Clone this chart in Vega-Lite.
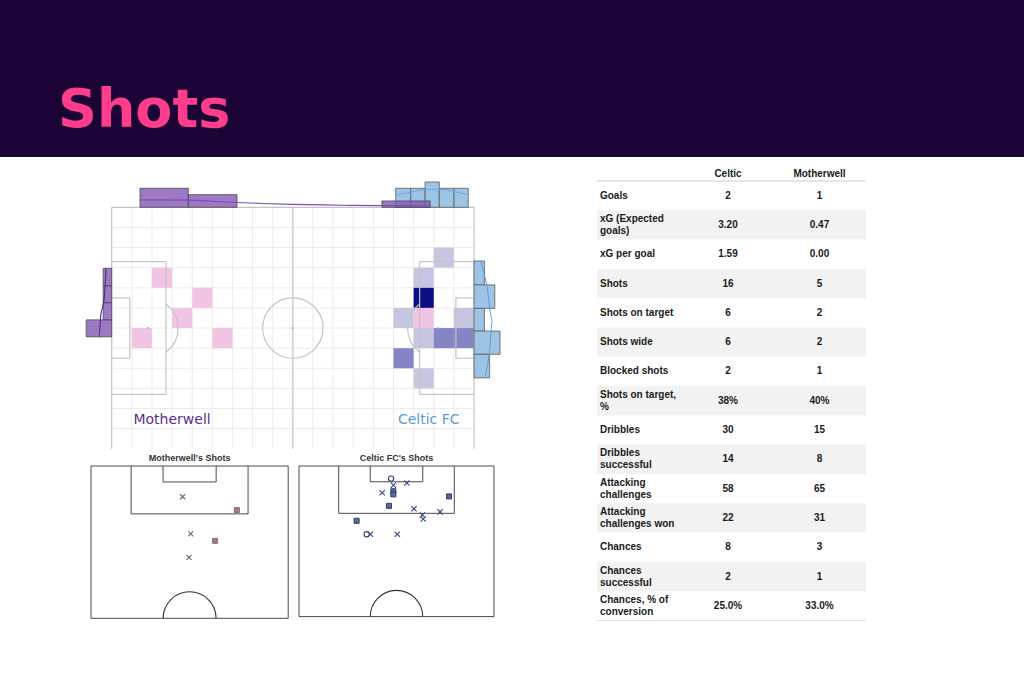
{
 "$schema": "https://vega.github.io/schema/vega-lite/v6.json",
 "width": 1024, "height": 683, "padding": 0,
 "autosize": {"type": "none"},
 "background": "#ffffff",
 "config": {"view": {"stroke": null}, "axis": {"disable": true}, "legend": {"disable": true}, "text": {"font": "Liberation Sans"}},
 "resolve": {"scale": {"x": "independent", "y": "independent", "color": "independent", "shape": "independent"}},
 "datasets": {
  "stats": [
   {"i":0,"stat":"Goals","label":"Goals","Celtic":"2","Motherwell":"1"},
   {"i":1,"stat":"xG (Expected goals)","label":["xG (Expected","goals)"],"Celtic":"3.20","Motherwell":"0.47"},
   {"i":2,"stat":"xG per goal","label":"xG per goal","Celtic":"1.59","Motherwell":"0.00"},
   {"i":3,"stat":"Shots","label":"Shots","Celtic":"16","Motherwell":"5"},
   {"i":4,"stat":"Shots on target","label":"Shots on target","Celtic":"6","Motherwell":"2"},
   {"i":5,"stat":"Shots wide","label":"Shots wide","Celtic":"6","Motherwell":"2"},
   {"i":6,"stat":"Blocked shots","label":"Blocked shots","Celtic":"2","Motherwell":"1"},
   {"i":7,"stat":"Shots on target, %","label":["Shots on target,","%"],"Celtic":"38%","Motherwell":"40%"},
   {"i":8,"stat":"Dribbles","label":"Dribbles","Celtic":"30","Motherwell":"15"},
   {"i":9,"stat":"Dribbles successful","label":["Dribbles","successful"],"Celtic":"14","Motherwell":"8"},
   {"i":10,"stat":"Attacking challenges","label":["Attacking","challenges"],"Celtic":"58","Motherwell":"65"},
   {"i":11,"stat":"Attacking challenges won","label":["Attacking","challenges won"],"Celtic":"22","Motherwell":"31"},
   {"i":12,"stat":"Chances","label":"Chances","Celtic":"8","Motherwell":"3"},
   {"i":13,"stat":"Chances successful","label":["Chances","successful"],"Celtic":"2","Motherwell":"1"},
   {"i":14,"stat":"Chances, % of conversion","label":["Chances, % of","conversion"],"Celtic":"25.0%","Motherwell":"33.0%"}
  ],
  "halfpitch": [
   {"x1":0,"y1":0,"x2":68,"y2":0},{"x1":0,"y1":0,"x2":0,"y2":52.5},{"x1":68,"y1":0,"x2":68,"y2":52.5},{"x1":0,"y1":52.5,"x2":68,"y2":52.5},
   {"x1":13.84,"y1":0,"x2":13.84,"y2":16.5},{"x1":13.84,"y1":16.5,"x2":54.16,"y2":16.5},{"x1":54.16,"y1":16.5,"x2":54.16,"y2":0},
   {"x1":24.84,"y1":0,"x2":24.84,"y2":5.5},{"x1":24.84,"y1":5.5,"x2":43.16,"y2":5.5},{"x1":43.16,"y1":5.5,"x2":43.16,"y2":0}
  ]
 },
 "layer": [
  {"data":{"values":[{"section":"Shots"}]},"mark":{"type":"rect","color":"#1c0436"},
   "encoding":{"x":{"value":0},"x2":{"value":1024},"y":{"value":0},"y2":{"value":157}}},
  {"data":{"values":[{"section":"Shots"}]},"mark":{"type":"text","font":"DejaVu Sans","fontWeight":"bold","fontSize":54,"color":"#ff3d8d","align":"left","baseline":"alphabetic"},
   "encoding":{"text":{"field":"section"},"x":{"value":58},"y":{"value":127}}},

  {"data":{"values":[{"gx":6.67},{"gx":13.33},{"gx":20},{"gx":26.67},{"gx":33.33},{"gx":40},{"gx":46.67},{"gx":53.33},{"gx":66.67},{"gx":73.33},{"gx":80},{"gx":86.67},{"gx":93.33},{"gx":100},{"gx":106.67},{"gx":113.33}]},
   "mark":{"type":"rule","color":"#ececec","strokeWidth":1},
   "encoding":{"x":{"field":"gx","type":"quantitative","scale":{"domain":[0,120],"range":[111.7,474],"nice":false,"zero":false}},
    "y":{"datum":0,"type":"quantitative","scale":{"domain":[0,80],"range":[207.3,448.8],"nice":false,"zero":false}},"y2":{"datum":80}}},
  {"data":{"values":[{"gy":6.67},{"gy":13.33},{"gy":20},{"gy":26.67},{"gy":33.33},{"gy":40},{"gy":46.67},{"gy":53.33},{"gy":60},{"gy":66.67},{"gy":73.33}]},
   "mark":{"type":"rule","color":"#ececec","strokeWidth":1},
   "encoding":{"y":{"field":"gy","type":"quantitative","scale":{"domain":[0,80],"range":[207.3,448.8],"nice":false,"zero":false}},
    "x":{"datum":0,"type":"quantitative","scale":{"domain":[0,120],"range":[111.7,474],"nice":false,"zero":false}},"x2":{"datum":120}}},

  {"data":{"values":[
    {"team":"Motherwell","x0":13.33,"x1":20,"y0":20,"y1":26.67,"xg":0.10},
    {"team":"Motherwell","x0":26.67,"x1":33.33,"y0":26.67,"y1":33.33,"xg":0.09},
    {"team":"Motherwell","x0":20,"x1":26.67,"y0":33.33,"y1":40,"xg":0.11},
    {"team":"Motherwell","x0":6.67,"x1":13.33,"y0":40,"y1":46.67,"xg":0.10},
    {"team":"Motherwell","x0":33.33,"x1":40,"y0":40,"y1":46.67,"xg":0.07},
    {"team":"Celtic","x0":106.67,"x1":113.33,"y0":13.33,"y1":20,"xg":0.2},
    {"team":"Celtic","x0":100,"x1":106.67,"y0":20,"y1":26.67,"xg":0.2},
    {"team":"Celtic","x0":100,"x1":106.67,"y0":26.67,"y1":33.33,"xg":0.7},
    {"team":"Celtic","x0":93.33,"x1":100,"y0":33.33,"y1":40,"xg":0.2},
    {"team":"Celtic","x0":100,"x1":106.67,"y0":33.33,"y1":40,"xg":0.1},
    {"team":"Celtic","x0":113.33,"x1":120,"y0":33.33,"y1":40,"xg":0.2},
    {"team":"Celtic","x0":100,"x1":106.67,"y0":40,"y1":46.67,"xg":0.2},
    {"team":"Celtic","x0":106.67,"x1":113.33,"y0":40,"y1":46.67,"xg":0.4},
    {"team":"Celtic","x0":113.33,"x1":120,"y0":40,"y1":46.67,"xg":0.4},
    {"team":"Celtic","x0":93.33,"x1":100,"y0":46.67,"y1":53.33,"xg":0.4},
    {"team":"Celtic","x0":100,"x1":106.67,"y0":53.33,"y1":60,"xg":0.2}
   ]},
   "mark":{"type":"rect"},
   "encoding":{"x":{"field":"x0","type":"quantitative","scale":{"domain":[0,120],"range":[111.7,474],"nice":false,"zero":false}},"x2":{"field":"x1"},
    "y":{"field":"y0","type":"quantitative","scale":{"domain":[0,80],"range":[207.3,448.8],"nice":false,"zero":false}},"y2":{"field":"y1"},
    "color":{"field":"xg","type":"quantitative","scale":{"type":"threshold","domain":[0.15,0.3,0.6],"range":["#f1c4e3","#c6c6e3","#8585c6","#0d0d86"]}}}},

  {"data":{"values":[
    {"x1":0,"y1":0,"x2":120,"y2":0},{"x1":0,"y1":0,"x2":0,"y2":80},{"x1":120,"y1":0,"x2":120,"y2":80},{"x1":60,"y1":0,"x2":60,"y2":80},
    {"x1":0,"y1":18,"x2":18,"y2":18},{"x1":18,"y1":18,"x2":18,"y2":62},{"x1":18,"y1":62,"x2":0,"y2":62},
    {"x1":0,"y1":30,"x2":6,"y2":30},{"x1":6,"y1":30,"x2":6,"y2":50},{"x1":6,"y1":50,"x2":0,"y2":50},
    {"x1":120,"y1":18,"x2":102,"y2":18},{"x1":102,"y1":18,"x2":102,"y2":62},{"x1":102,"y1":62,"x2":120,"y2":62},
    {"x1":120,"y1":30,"x2":114,"y2":30},{"x1":114,"y1":30,"x2":114,"y2":50},{"x1":114,"y1":50,"x2":120,"y2":50}
   ]},
   "mark":{"type":"rule","color":"#c4c4c4","strokeWidth":1.2},
   "encoding":{"x":{"field":"x1","type":"quantitative","scale":{"domain":[0,120],"range":[111.7,474],"nice":false,"zero":false}},"x2":{"field":"x2"},
    "y":{"field":"y1","type":"quantitative","scale":{"domain":[0,80],"range":[207.3,448.8],"nice":false,"zero":false}},"y2":{"field":"y2"}}},
  {"data":{"values":[{"part":"centre circle","x":60,"y":40},{"part":"left arc","x":12,"y":40},{"part":"right arc","x":108,"y":40}]},
   "mark":{"type":"point","filled":false,"color":"#c4c4c4","strokeWidth":1.2,"size":3646,"opacity":1},
   "encoding":{"x":{"field":"x","type":"quantitative","scale":{"domain":[0,120],"range":[111.7,474],"nice":false,"zero":false}},
    "y":{"field":"y","type":"quantitative","scale":{"domain":[0,80],"range":[207.3,448.8],"nice":false,"zero":false}},
    "shape":{"field":"part","type":"nominal","scale":{"domain":["centre circle","left arc","right arc"],"range":["circle","M0.6,-0.8A1,1,0,0,1,0.6,0.8","M-0.6,-0.8A1,1,0,0,0,-0.6,0.8"]}}}},
  {"data":{"values":[{"x":12,"y":40},{"x":60,"y":40},{"x":108,"y":40}]},
   "mark":{"type":"point","filled":true,"color":"#b0b0b0","size":5,"opacity":1},
   "encoding":{"x":{"field":"x","type":"quantitative","scale":{"domain":[0,120],"range":[111.7,474],"nice":false,"zero":false}},
    "y":{"field":"y","type":"quantitative","scale":{"domain":[0,80],"range":[207.3,448.8],"nice":false,"zero":false}}}},

  {"data":{"values":[{"x0":94.07,"x1":99.04,"n":3},{"x0":99.04,"x1":103.8,"n":3},{"x0":103.8,"x1":108.5,"n":4},{"x0":108.5,"x1":113.4,"n":3},{"x0":113.4,"x1":118.1,"n":3}]},
   "mark":{"type":"rect","fill":"#9dc4e4","stroke":"#5a5a5a","strokeWidth":0.8},
   "encoding":{"x":{"field":"x0","type":"quantitative","scale":{"domain":[0,120],"range":[111.7,474],"nice":false,"zero":false}},"x2":{"field":"x1"},
    "y":{"field":"n","type":"quantitative","scale":{"domain":[0,1],"range":[207.3,200.97],"nice":false,"zero":false}},"y2":{"datum":0}}},
  {"data":{"values":[{"x0":9.37,"x1":25.37,"n":3},{"x0":25.37,"x1":41.5,"n":2},{"x0":89.5,"x1":105.5,"n":1}]},
   "mark":{"type":"rect","fill":"#8457b6","fillOpacity":0.8,"stroke":"#4a4a4a","strokeWidth":0.8},
   "encoding":{"x":{"field":"x0","type":"quantitative","scale":{"domain":[0,120],"range":[111.7,474],"nice":false,"zero":false}},"x2":{"field":"x1"},
    "y":{"field":"n","type":"quantitative","scale":{"domain":[0,1],"range":[207.3,200.97],"nice":false,"zero":false}},"y2":{"datum":0}}},
  {"data":{"values":[{"x":94,"d":1.9},{"x":99,"d":2.4},{"x":103.8,"d":2.8},{"x":108.5,"d":2.85},{"x":113.4,"d":2.5},{"x":118.1,"d":2.0}]},
   "mark":{"type":"line","color":"#6fa8dc","strokeWidth":1,"interpolate":"monotone"},
   "encoding":{"x":{"field":"x","type":"quantitative","scale":{"domain":[0,120],"range":[111.7,474],"nice":false,"zero":false}},
    "y":{"field":"d","type":"quantitative","scale":{"domain":[0,1],"range":[207.3,200.97],"nice":false,"zero":false}}}},
  {"data":{"values":[{"x":9.4,"d":1.16},{"x":17.4,"d":1.18},{"x":25.4,"d":1.12},{"x":33.4,"d":0.95},{"x":41.5,"d":0.76},{"x":50,"d":0.6},{"x":60,"d":0.47},{"x":70,"d":0.37},{"x":80,"d":0.3},{"x":90,"d":0.25},{"x":98,"d":0.22},{"x":105.5,"d":0.2}]},
   "mark":{"type":"line","color":"#7a4fb2","strokeWidth":1.2,"interpolate":"monotone"},
   "encoding":{"x":{"field":"x","type":"quantitative","scale":{"domain":[0,120],"range":[111.7,474],"nice":false,"zero":false}},
    "y":{"field":"d","type":"quantitative","scale":{"domain":[0,1],"range":[207.3,200.97],"nice":false,"zero":false}}}},

  {"data":{"values":[{"y0":20.2,"y1":26.0,"n":1},{"y0":26.0,"y1":31.6,"n":1},{"y0":31.6,"y1":37.3,"n":1},{"y0":37.3,"y1":42.9,"n":3}]},
   "mark":{"type":"rect","fill":"#8457b6","fillOpacity":0.8,"stroke":"#4a4a4a","strokeWidth":0.8},
   "encoding":{"x":{"field":"n","type":"quantitative","scale":{"domain":[0,1],"range":[111.7,103.2],"nice":false,"zero":false}},"x2":{"datum":0},
    "y":{"field":"y0","type":"quantitative","scale":{"domain":[0,80],"range":[207.3,448.8],"nice":false,"zero":false}},"y2":{"field":"y1"}}},
  {"data":{"values":[{"y":20.2,"d":0.67},{"y":25,"d":0.75},{"y":30.6,"d":0.9},{"y":36.2,"d":1.3},{"y":42.3,"d":1.46},{"y":42.9,"d":1.45}]},
   "mark":{"type":"line","color":"#4b2a85","strokeWidth":1.1,"interpolate":"monotone","orient":"vertical"},
   "encoding":{"x":{"field":"d","type":"quantitative","scale":{"domain":[0,1],"range":[111.7,103.2],"nice":false,"zero":false}},
    "y":{"field":"y","type":"quantitative","scale":{"domain":[0,80],"range":[207.3,448.8],"nice":false,"zero":false}},"order":{"field":"y","type":"quantitative"}}},
  {"data":{"values":[{"y0":17.8,"y1":25.7,"n":2},{"y0":25.7,"y1":33.5,"n":4},{"y0":33.5,"y1":41.0,"n":2},{"y0":41.0,"y1":48.7,"n":5},{"y0":48.7,"y1":56.5,"n":3}]},
   "mark":{"type":"rect","fill":"#9dc4e4","stroke":"#5a5a5a","strokeWidth":0.8},
   "encoding":{"x":{"field":"n","type":"quantitative","scale":{"domain":[0,1],"range":[474,479.2],"nice":false,"zero":false}},"x2":{"datum":0},
    "y":{"field":"y0","type":"quantitative","scale":{"domain":[0,80],"range":[207.3,448.8],"nice":false,"zero":false}},"y2":{"field":"y1"}}},
  {"data":{"values":[{"y":18,"d":1.29},{"y":25.7,"d":2.44},{"y":37.3,"d":3.52},{"y":46.2,"d":3.08},{"y":56.1,"d":2.12}]},
   "mark":{"type":"line","color":"#5b9bd5","strokeWidth":1,"interpolate":"monotone","orient":"vertical"},
   "encoding":{"x":{"field":"d","type":"quantitative","scale":{"domain":[0,1],"range":[474,479.2],"nice":false,"zero":false}},
    "y":{"field":"y","type":"quantitative","scale":{"domain":[0,80],"range":[207.3,448.8],"nice":false,"zero":false}},"order":{"field":"y","type":"quantitative"}}},

  {"data":{"values":[{"team":"Motherwell"}]},
   "mark":{"type":"text","font":"DejaVu Sans","fontSize":14,"color":"#5b2e92","align":"center","baseline":"alphabetic"},
   "encoding":{"text":{"field":"team"},"x":{"datum":20,"type":"quantitative","scale":{"domain":[0,120],"range":[111.7,474],"nice":false,"zero":false}},
    "y":{"datum":71.8,"type":"quantitative","scale":{"domain":[0,80],"range":[207.3,448.8],"nice":false,"zero":false}}}},
  {"data":{"values":[{"team":"Celtic FC"}]},
   "mark":{"type":"text","font":"DejaVu Sans","fontSize":14,"color":"#5b9bd5","align":"center","baseline":"alphabetic"},
   "encoding":{"text":{"field":"team"},"x":{"datum":105,"type":"quantitative","scale":{"domain":[0,120],"range":[111.7,474],"nice":false,"zero":false}},
    "y":{"datum":71.8,"type":"quantitative","scale":{"domain":[0,80],"range":[207.3,448.8],"nice":false,"zero":false}}}},

  {"data":{"name":"halfpitch"},
   "mark":{"type":"rule","color":"#4a4a4a","strokeWidth":1},
   "encoding":{"x":{"field":"x1","type":"quantitative","scale":{"domain":[0,68],"range":[91,288.2],"nice":false,"zero":false}},"x2":{"field":"x2"},
    "y":{"field":"y1","type":"quantitative","scale":{"domain":[0,52.5],"range":[466,618.3],"nice":false,"zero":false}},"y2":{"field":"y2"}}},
  {"data":{"values":[{"part":"centre arc","x":34,"y":52.5}]},
   "mark":{"type":"point","filled":false,"color":"#333333","strokeWidth":1.1,"size":2809,"opacity":1,"shape":"M-1,0A1,1,0,0,1,1,0"},
   "encoding":{"x":{"field":"x","type":"quantitative","scale":{"domain":[0,68],"range":[91,288.2],"nice":false,"zero":false}},
    "y":{"field":"y","type":"quantitative","scale":{"domain":[0,52.5],"range":[466,618.3],"nice":false,"zero":false}}}},
  {"data":{"values":[{"title":"Motherwell's Shots"}]},
   "mark":{"type":"text","fontSize":9,"fontWeight":"bold","color":"#333333","align":"center","baseline":"middle"},
   "encoding":{"text":{"field":"title"},"x":{"datum":34,"type":"quantitative","scale":{"domain":[0,68],"range":[91,288.2],"nice":false,"zero":false}},
    "y":{"datum":-2.7,"type":"quantitative","scale":{"domain":[0,52.5],"range":[466,618.3],"nice":false,"zero":false}}}},
  {"data":{"values":[{"x":31.6,"d":10.6,"outcome":"Off target"},{"x":50.3,"d":15.2,"outcome":"On target"},{"x":34.4,"d":23.4,"outcome":"Off target"},{"x":42.8,"d":25.8,"outcome":"On target"},{"x":33.8,"d":31.5,"outcome":"Off target"}]},
   "layer":[
    {"transform":[{"filter":"datum.outcome == 'On target'"}],
     "mark":{"type":"point","shape":"square","filled":true,"fill":"#b8708a","stroke":"#807479","strokeWidth":1,"size":25,"opacity":1},
     "encoding":{"x":{"field":"x","type":"quantitative","scale":{"domain":[0,68],"range":[91,288.2],"nice":false,"zero":false}},
      "y":{"field":"d","type":"quantitative","scale":{"domain":[0,52.5],"range":[466,618.3],"nice":false,"zero":false}}}},
    {"transform":[{"filter":"datum.outcome == 'Off target'"}],
     "mark":{"type":"point","shape":"M-1,-1L1,1M-1,1L1,-1","filled":false,"color":"#6a6a6a","strokeWidth":1.1,"size":25,"opacity":1},
     "encoding":{"x":{"field":"x","type":"quantitative","scale":{"domain":[0,68],"range":[91,288.2],"nice":false,"zero":false}},
      "y":{"field":"d","type":"quantitative","scale":{"domain":[0,52.5],"range":[466,618.3],"nice":false,"zero":false}}}}
   ]},

  {"data":{"name":"halfpitch"},
   "mark":{"type":"rule","color":"#4a4a4a","strokeWidth":1},
   "encoding":{"x":{"field":"x1","type":"quantitative","scale":{"domain":[0,68],"range":[299,494],"nice":false,"zero":false}},"x2":{"field":"x2"},
    "y":{"field":"y1","type":"quantitative","scale":{"domain":[0,52.5],"range":[466,616.6],"nice":false,"zero":false}},"y2":{"field":"y2"}}},
  {"data":{"values":[{"part":"centre arc","x":34,"y":52.5}]},
   "mark":{"type":"point","filled":false,"color":"#333333","strokeWidth":1.1,"size":2757,"opacity":1,"shape":"M-1,0A1,1,0,0,1,1,0"},
   "encoding":{"x":{"field":"x","type":"quantitative","scale":{"domain":[0,68],"range":[299,494],"nice":false,"zero":false}},
    "y":{"field":"y","type":"quantitative","scale":{"domain":[0,52.5],"range":[466,616.6],"nice":false,"zero":false}}}},
  {"data":{"values":[{"title":"Celtic FC's Shots"}]},
   "mark":{"type":"text","fontSize":9,"fontWeight":"bold","color":"#333333","align":"center","baseline":"middle"},
   "encoding":{"text":{"field":"title"},"x":{"datum":34,"type":"quantitative","scale":{"domain":[0,68],"range":[299,494],"nice":false,"zero":false}},
    "y":{"datum":-2.7,"type":"quantitative","scale":{"domain":[0,52.5],"range":[466,616.6],"nice":false,"zero":false}}}},
  {"data":{"values":[
    {"x":32.1,"d":4.4,"outcome":"Goal"},{"x":23.6,"d":23.8,"outcome":"Goal"},
    {"x":32.9,"d":8.8,"outcome":"On target"},{"x":32.9,"d":9.9,"outcome":"On target"},{"x":31.4,"d":13.9,"outcome":"On target"},{"x":52.3,"d":10.6,"outcome":"On target"},{"x":20.1,"d":19.1,"outcome":"On target"},
    {"x":32.9,"d":6.7,"outcome":"Off target"},{"x":37.6,"d":5.9,"outcome":"Off target"},{"x":29.0,"d":9.3,"outcome":"Off target"},{"x":40.1,"d":14.9,"outcome":"Off target"},{"x":43.0,"d":17.1,"outcome":"Off target"},{"x":43.3,"d":18.5,"outcome":"Off target"},{"x":49.2,"d":16.0,"outcome":"Off target"},{"x":24.9,"d":23.8,"outcome":"Off target"},{"x":34.3,"d":23.8,"outcome":"Off target"}
   ]},
   "layer":[
    {"transform":[{"filter":"datum.outcome == 'On target'"}],
     "mark":{"type":"point","shape":"square","filled":true,"fill":"#5a6b98","stroke":"#2b3d6d","strokeWidth":1,"size":25,"opacity":1},
     "encoding":{"x":{"field":"x","type":"quantitative","scale":{"domain":[0,68],"range":[299,494],"nice":false,"zero":false}},
      "y":{"field":"d","type":"quantitative","scale":{"domain":[0,52.5],"range":[466,616.6],"nice":false,"zero":false}}}},
    {"transform":[{"filter":"datum.outcome != 'On target'"}],
     "mark":{"type":"point","filled":false,"color":"#34487a","strokeWidth":1.1,"size":28,"opacity":1},
     "encoding":{"x":{"field":"x","type":"quantitative","scale":{"domain":[0,68],"range":[299,494],"nice":false,"zero":false}},
      "y":{"field":"d","type":"quantitative","scale":{"domain":[0,52.5],"range":[466,616.6],"nice":false,"zero":false}},
      "shape":{"field":"outcome","type":"nominal","scale":{"domain":["Goal","Off target"],"range":["circle","M-1,-1L1,1M-1,1L1,-1"]}}}}
   ]},

  {"data":{"name":"stats"},"transform":[{"filter":"datum.i % 2 == 1"}],
   "mark":{"type":"rect","color":"#f2f2f2"},
   "encoding":{"y":{"field":"stat","type":"nominal","scale":{"type":"band","domain":["Team","Goals","xG (Expected goals)","xG per goal","Shots","Shots on target","Shots wide","Blocked shots","Shots on target, %","Dribbles","Dribbles successful","Attacking challenges","Attacking challenges won","Chances","Chances successful","Chances, % of conversion"],"range":[151.7,620.5],"paddingInner":0,"paddingOuter":0}},
    "x":{"datum":0,"type":"quantitative","scale":{"domain":[0,1],"range":[597,866],"nice":false,"zero":false}},"x2":{"datum":1}}},
  {"data":{"name":"stats"},"transform":[{"filter":"datum.i == 0"}],
   "mark":{"type":"rule","color":"#dedede","strokeWidth":1.5},
   "encoding":{"y":{"field":"stat","type":"nominal","bandPosition":0,"scale":{"type":"band","domain":["Team","Goals","xG (Expected goals)","xG per goal","Shots","Shots on target","Shots wide","Blocked shots","Shots on target, %","Dribbles","Dribbles successful","Attacking challenges","Attacking challenges won","Chances","Chances successful","Chances, % of conversion"],"range":[151.7,620.5],"paddingInner":0,"paddingOuter":0}},
    "x":{"datum":0,"type":"quantitative","scale":{"domain":[0,1],"range":[597,866],"nice":false,"zero":false}},"x2":{"datum":1}}},
  {"data":{"name":"stats"},"transform":[{"filter":"datum.i == 14"}],
   "mark":{"type":"rule","color":"#e4e4e4","strokeWidth":1},
   "encoding":{"y":{"field":"stat","type":"nominal","bandPosition":1,"scale":{"type":"band","domain":["Team","Goals","xG (Expected goals)","xG per goal","Shots","Shots on target","Shots wide","Blocked shots","Shots on target, %","Dribbles","Dribbles successful","Attacking challenges","Attacking challenges won","Chances","Chances successful","Chances, % of conversion"],"range":[151.7,620.5],"paddingInner":0,"paddingOuter":0}},
    "x":{"datum":0,"type":"quantitative","scale":{"domain":[0,1],"range":[597,866],"nice":false,"zero":false}},"x2":{"datum":1}}},
  {"data":{"name":"stats"},"transform":[{"filter":"!isArray(datum.label)"}],
   "mark":{"type":"text","fontSize":10,"fontWeight":"bold","color":"#1a1a1a","align":"left","baseline":"middle"},
   "encoding":{"text":{"field":"label"},
    "y":{"field":"stat","type":"nominal","scale":{"type":"band","domain":["Team","Goals","xG (Expected goals)","xG per goal","Shots","Shots on target","Shots wide","Blocked shots","Shots on target, %","Dribbles","Dribbles successful","Attacking challenges","Attacking challenges won","Chances","Chances successful","Chances, % of conversion"],"range":[151.7,620.5],"paddingInner":0,"paddingOuter":0}},
    "x":{"datum":0.011,"type":"quantitative","scale":{"domain":[0,1],"range":[597,866],"nice":false,"zero":false}}}},
  {"data":{"name":"stats"},"transform":[{"filter":"isArray(datum.label)"}],
   "mark":{"type":"text","fontSize":10,"fontWeight":"bold","color":"#1a1a1a","align":"left","baseline":"middle","lineHeight":12,"dy":-6},
   "encoding":{"text":{"field":"label"},
    "y":{"field":"stat","type":"nominal","scale":{"type":"band","domain":["Team","Goals","xG (Expected goals)","xG per goal","Shots","Shots on target","Shots wide","Blocked shots","Shots on target, %","Dribbles","Dribbles successful","Attacking challenges","Attacking challenges won","Chances","Chances successful","Chances, % of conversion"],"range":[151.7,620.5],"paddingInner":0,"paddingOuter":0}},
    "x":{"datum":0.011,"type":"quantitative","scale":{"domain":[0,1],"range":[597,866],"nice":false,"zero":false}}}},
  {"data":{"name":"stats"},"transform":[{"fold":["Celtic","Motherwell"],"as":["team","value"]}],
   "mark":{"type":"text","fontSize":10,"fontWeight":"bold","color":"#1a1a1a","align":"center","baseline":"middle"},
   "encoding":{"text":{"field":"value"},
    "y":{"field":"stat","type":"nominal","scale":{"type":"band","domain":["Team","Goals","xG (Expected goals)","xG per goal","Shots","Shots on target","Shots wide","Blocked shots","Shots on target, %","Dribbles","Dribbles successful","Attacking challenges","Attacking challenges won","Chances","Chances successful","Chances, % of conversion"],"range":[151.7,620.5],"paddingInner":0,"paddingOuter":0}},
    "x":{"field":"team","type":"nominal","scale":{"type":"point","domain":["Celtic","Motherwell"],"range":[728,819.5],"padding":0}}}},
  {"data":{"values":[{"team":"Celtic"},{"team":"Motherwell"}]},
   "mark":{"type":"text","fontSize":10,"fontWeight":"bold","color":"#1a1a1a","align":"center","baseline":"middle","dy":8},
   "encoding":{"text":{"field":"team"},
    "y":{"datum":"Team","type":"nominal","scale":{"type":"band","domain":["Team","Goals","xG (Expected goals)","xG per goal","Shots","Shots on target","Shots wide","Blocked shots","Shots on target, %","Dribbles","Dribbles successful","Attacking challenges","Attacking challenges won","Chances","Chances successful","Chances, % of conversion"],"range":[151.7,620.5],"paddingInner":0,"paddingOuter":0}},
    "x":{"field":"team","type":"nominal","scale":{"type":"point","domain":["Celtic","Motherwell"],"range":[728,819.5],"padding":0}}}}
 ]
}
